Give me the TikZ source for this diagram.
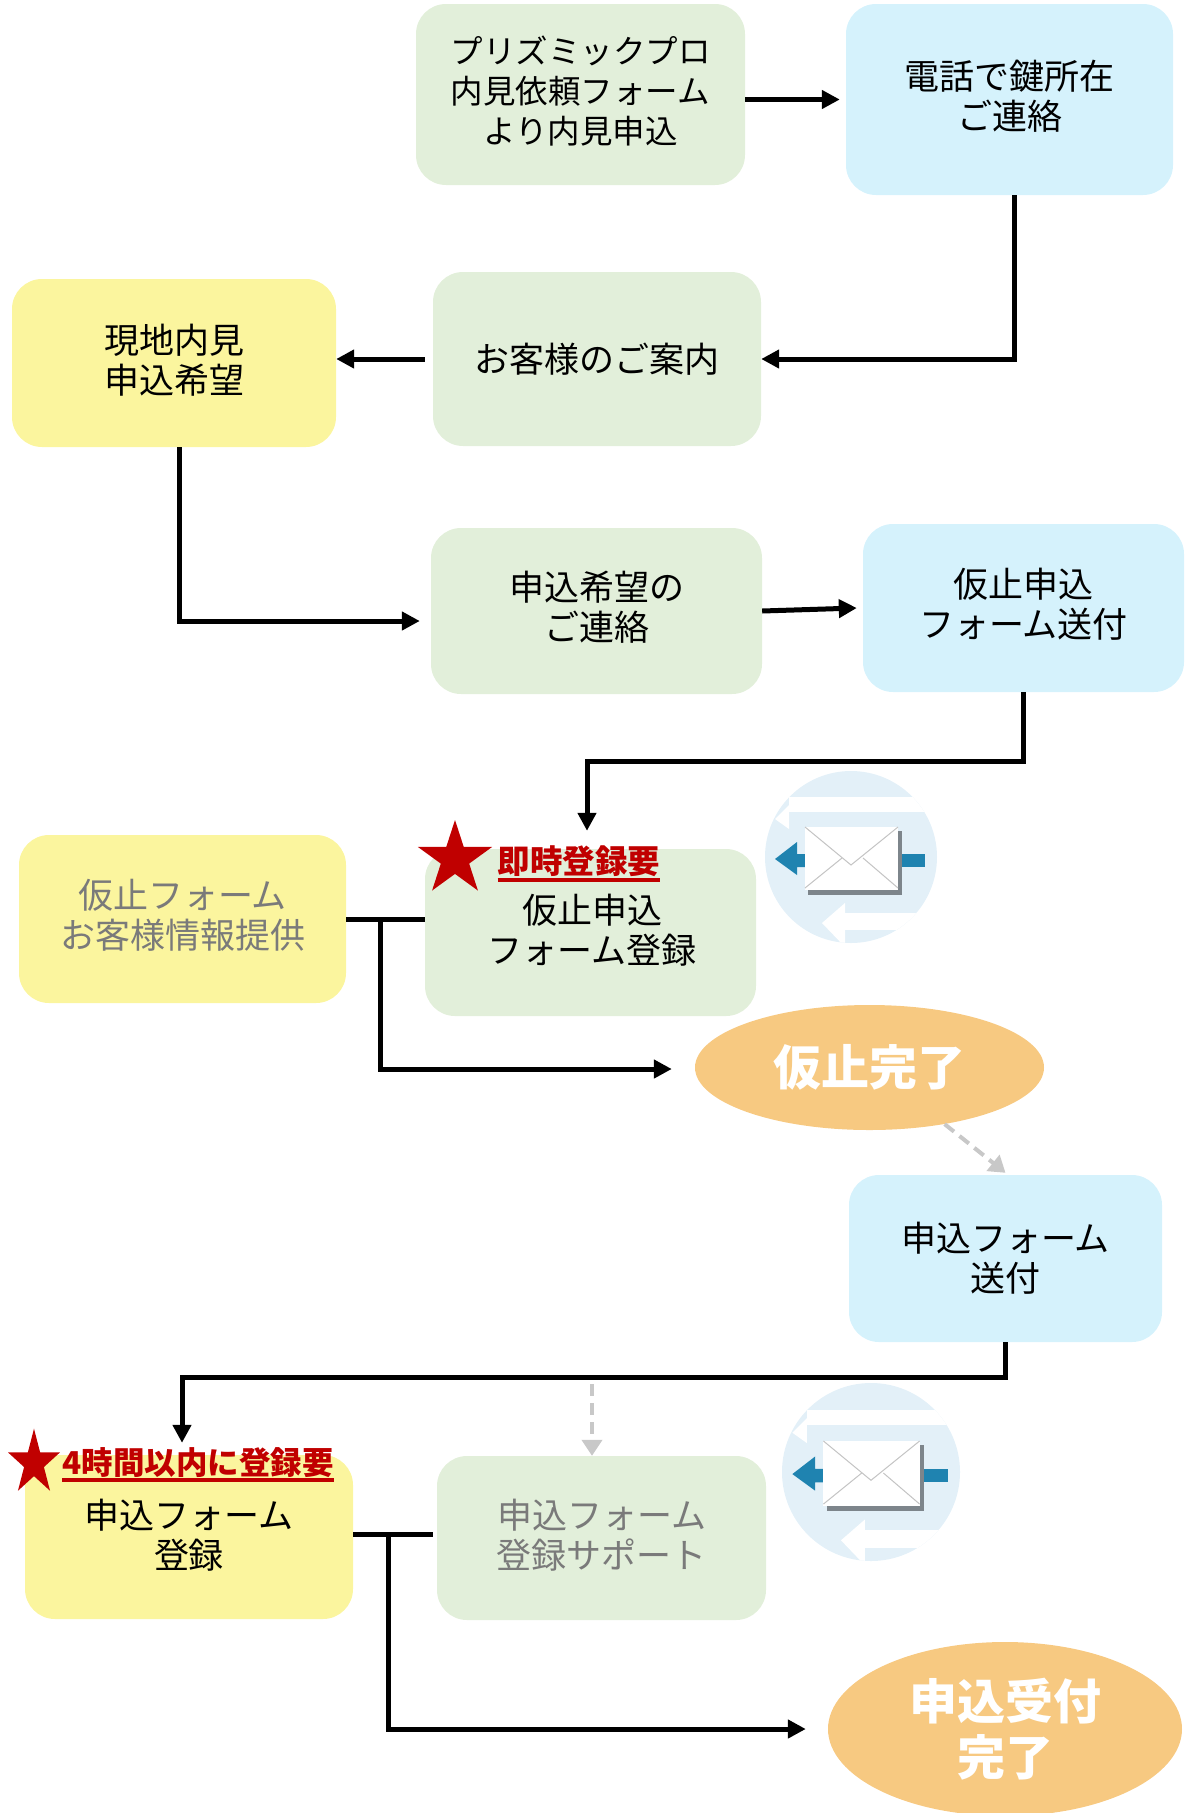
\documentclass[tikz,border=0pt]{standalone}
\usepackage{fontspec}
\setmainfont{Noto Sans CJK JP}
\usetikzlibrary{arrows.meta,calc,shapes.geometric}
\definecolor{gbox}{HTML}{E2EFDA}
\definecolor{bbox}{HTML}{D5F2FC}
\definecolor{ybox}{HTML}{FBF59E}
\definecolor{obox}{HTML}{F7C981}
\definecolor{gtext}{HTML}{7A7A7A}
\definecolor{redlbl}{HTML}{C00000}
\definecolor{dashgray}{HTML}{C8C8C8}
\definecolor{iconbg}{HTML}{E3F0F8}
\definecolor{iconblue}{HTML}{1F83B0}
\definecolor{shadowgray}{HTML}{7D858B}
\definecolor{envgray}{HTML}{C4C4C4}
\newcommand\mailicon[3]{%
\begin{scope}[shift={(#1,#2)}, scale=#3]
 \fill[iconbg] (0,0) circle (86);
 \begin{scope}
  \clip (0,0) circle (86);
  \fill[white] (-62,-60) rectangle (90,-45);
  \fill[white] (-76,-38) -- (-62,-52) -- (-62,-28) -- cycle;
  \fill[white] (-29,66) -- (-6,46) -- (-6,90) -- cycle;
  \fill[white] (-6,56) rectangle (90,73);
 \end{scope}
 \fill[iconblue] (-76,2) -- (-54,-15) -- (-54,-3) -- (-44,-3) -- (-44,10) -- (-54,10) -- (-54,18) -- cycle;
 \fill[iconblue] (49,-3) rectangle (74,10);
 \fill[shadowgray] (-43,-26) rectangle (51,38);
 \fill[white] (-46,-30) rectangle (47,33);
 \draw[envgray, line width=1pt] (-46,-30) -- (0,8) -- (47,-30);
 \draw[envgray, line width=1pt] (-46,31) -- (-9,1);
 \draw[envgray, line width=1pt] (47,31) -- (12,1);
\end{scope}}
\newcommand\redstar[4]{%
\begin{scope}[shift={(#1,#2)}, x=#3pt, y=#4pt]
 \fill[redlbl] (90:1) -- (126:0.382) -- (162:1) -- (198:0.382) -- (234:1) -- (270:0.382) -- (306:1) -- (342:0.382) -- (18:1) -- (54:0.382) -- cycle;
\end{scope}}
\begin{document}
\begin{tikzpicture}[x=1pt,y=-1pt,
  box/.style={rounded corners=30pt, inner sep=0pt, align=center, font=\fontsize{35}{40}\selectfont, text=black},
  gb/.style={box, fill=gbox},
  bb/.style={box, fill=bbox},
  yb/.style={box, fill=ybox},
  txt/.style={inner sep=0pt, align=center, font=\fontsize{35}{40}\selectfont},
  lbl/.style={inner sep=0pt, text=redlbl, font=\fontsize{32.5}{33}\selectfont\bfseries},
  endnode/.style={ellipse, fill=obox, inner sep=0pt, align=center, text=white, font=\fontsize{48}{56}\selectfont\bfseries},
  conn/.style={draw=black, line width=5pt, -{Triangle[length=18pt,width=18pt]}},
  plain/.style={draw=black, line width=5pt},
  dashconn/.style={draw=dashgray, line width=4pt, dash pattern=on 12pt off 7pt, -{Triangle[length=16pt,width=20pt]}}
]
\useasboundingbox (0,0) rectangle (1192,1813);

% boxes
\node[gb, minimum width=329pt, minimum height=181pt, font=\fontsize{32.5}{40}\selectfont] (b1) at (580.5,94.5) {};
\node[txt, font=\fontsize{32.5}{40}\selectfont] (b1t) at (580.5,91.5) {プリズミックプロ\\内見依頼フォーム\\より内見申込};
\node[bb, minimum width=327pt, minimum height=191pt] (b2) at (1009.5,99.5) {};
\node[txt] (b2t) at (1009.5,96.5) {電話で鍵所在\\ご連絡};
\node[gb, minimum width=328pt, minimum height=174pt] (b3) at (597,359) {お客様のご案内};
\node[yb, minimum width=324pt, minimum height=168pt] (b4) at (174,363) {};
\node[txt] (b4t) at (174,360) {現地内見\\申込希望};
\node[gb, minimum width=331pt, minimum height=166pt] (b5) at (596.5,611) {};
\node[txt] (b5t) at (596.5,607.5) {申込希望の\\ご連絡};
\node[bb, minimum width=321pt, minimum height=168pt] (b6) at (1023.5,608) {};
\node[txt] (b6t) at (1023.5,604.5) {仮止申込\\フォーム送付};
\node[yb, minimum width=327pt, minimum height=168pt] (b7) at (182.5,919) {};
\node[txt, text=gtext] (b7t) at (182.5,915.5) {仮止フォーム\\お客様情報提供};
\node[gb, minimum width=331pt, minimum height=167pt] (b8) at (590.5,932.5) {};
\node[txt] (b8t) at (592,930) {仮止申込\\フォーム登録};
\node[endnode, minimum width=349pt, minimum height=125pt] (e1) at (869.5,1067.5) {仮止完了};
\node[bb, minimum width=313pt, minimum height=167pt] (b9) at (1005.5,1258.5) {申込フォーム\\送付};
\node[yb, minimum width=328pt, minimum height=164pt] (b10) at (189,1537) {};
\node[txt] (b10t) at (189,1535) {申込フォーム\\登録};
\node[gb, minimum width=329pt, minimum height=164pt] (b11) at (601.5,1538) {};
\node[txt, text=gtext] (b11t) at (601.5,1535) {申込フォーム\\登録サポート};
\node[endnode, minimum width=354pt, minimum height=174pt] (e2) at (1005,1729) {申込受付\\完了};

% red labels with stars
\redstar{455}{859}{39}{39}
\node[lbl, anchor=base] (lbl1) at (579,873) {即時登録要};
\draw[redlbl, line width=3.5pt] ([yshift=-7pt]lbl1.base west) -- ([yshift=-7pt]lbl1.base east);
\redstar{34}{1463}{27.3}{34.3}
\node[lbl, anchor=base, font=\fontsize{31.5}{33}\selectfont\bfseries] (lbl2) at (198,1474) {4時間以内に登録要};
\draw[redlbl, line width=3.5pt] ([yshift=-6pt]lbl2.base west) -- ([yshift=-6pt]lbl2.base east);

% mail icons
\mailicon{851}{857}{1}
\mailicon{871}{1472}{1.035}

% connectors
\draw[conn] (b1.east |- b2.west) -- ([xshift=-6pt]b2.west);
\draw[conn] ([xshift=5pt]b2.south) |- (b3.east);
\draw[conn] ([xshift=-8pt]b3.west) -- (b4.east |- b3.west);
\draw[conn] ([xshift=5pt]b4.south) |- ([xshift=-11pt,yshift=-10pt]b5.west);
\draw[conn] (b5.east) -- ([xshift=-6pt]b6.west);
\draw[conn] (b6.south) -- ++(0,69.5) -| ([xshift=-3.5pt,yshift=18pt]b8.north);
\draw[plain] (b7.east) -- (b7.east -| b8.west);
\coordinate (j1) at ($(b7.east)+(34,0)$);
\draw[conn] (j1) |- ([xshift=-23pt,yshift=-1.5pt]e1.west);
\draw[dashconn] (e1.-37) -- ([yshift=2pt]b9.north);
\draw[conn] (b9.south) -- ++(0,35) -| ([xshift=-7pt,yshift=12pt]b10.north);
\coordinate (dstart) at (592,1384);
\draw[dashconn] (dstart) -- (dstart |- b11.north);
\draw[plain] ([yshift=3pt]b10.east) -- ([yshift=3pt,xshift=-4pt]b10.east -| b11.west);
\coordinate (j2) at ($(b10.east)+(35,-3)$);
\draw[conn] (j2) |- ([xshift=-22pt]e2.west);
\end{tikzpicture}
\end{document}
